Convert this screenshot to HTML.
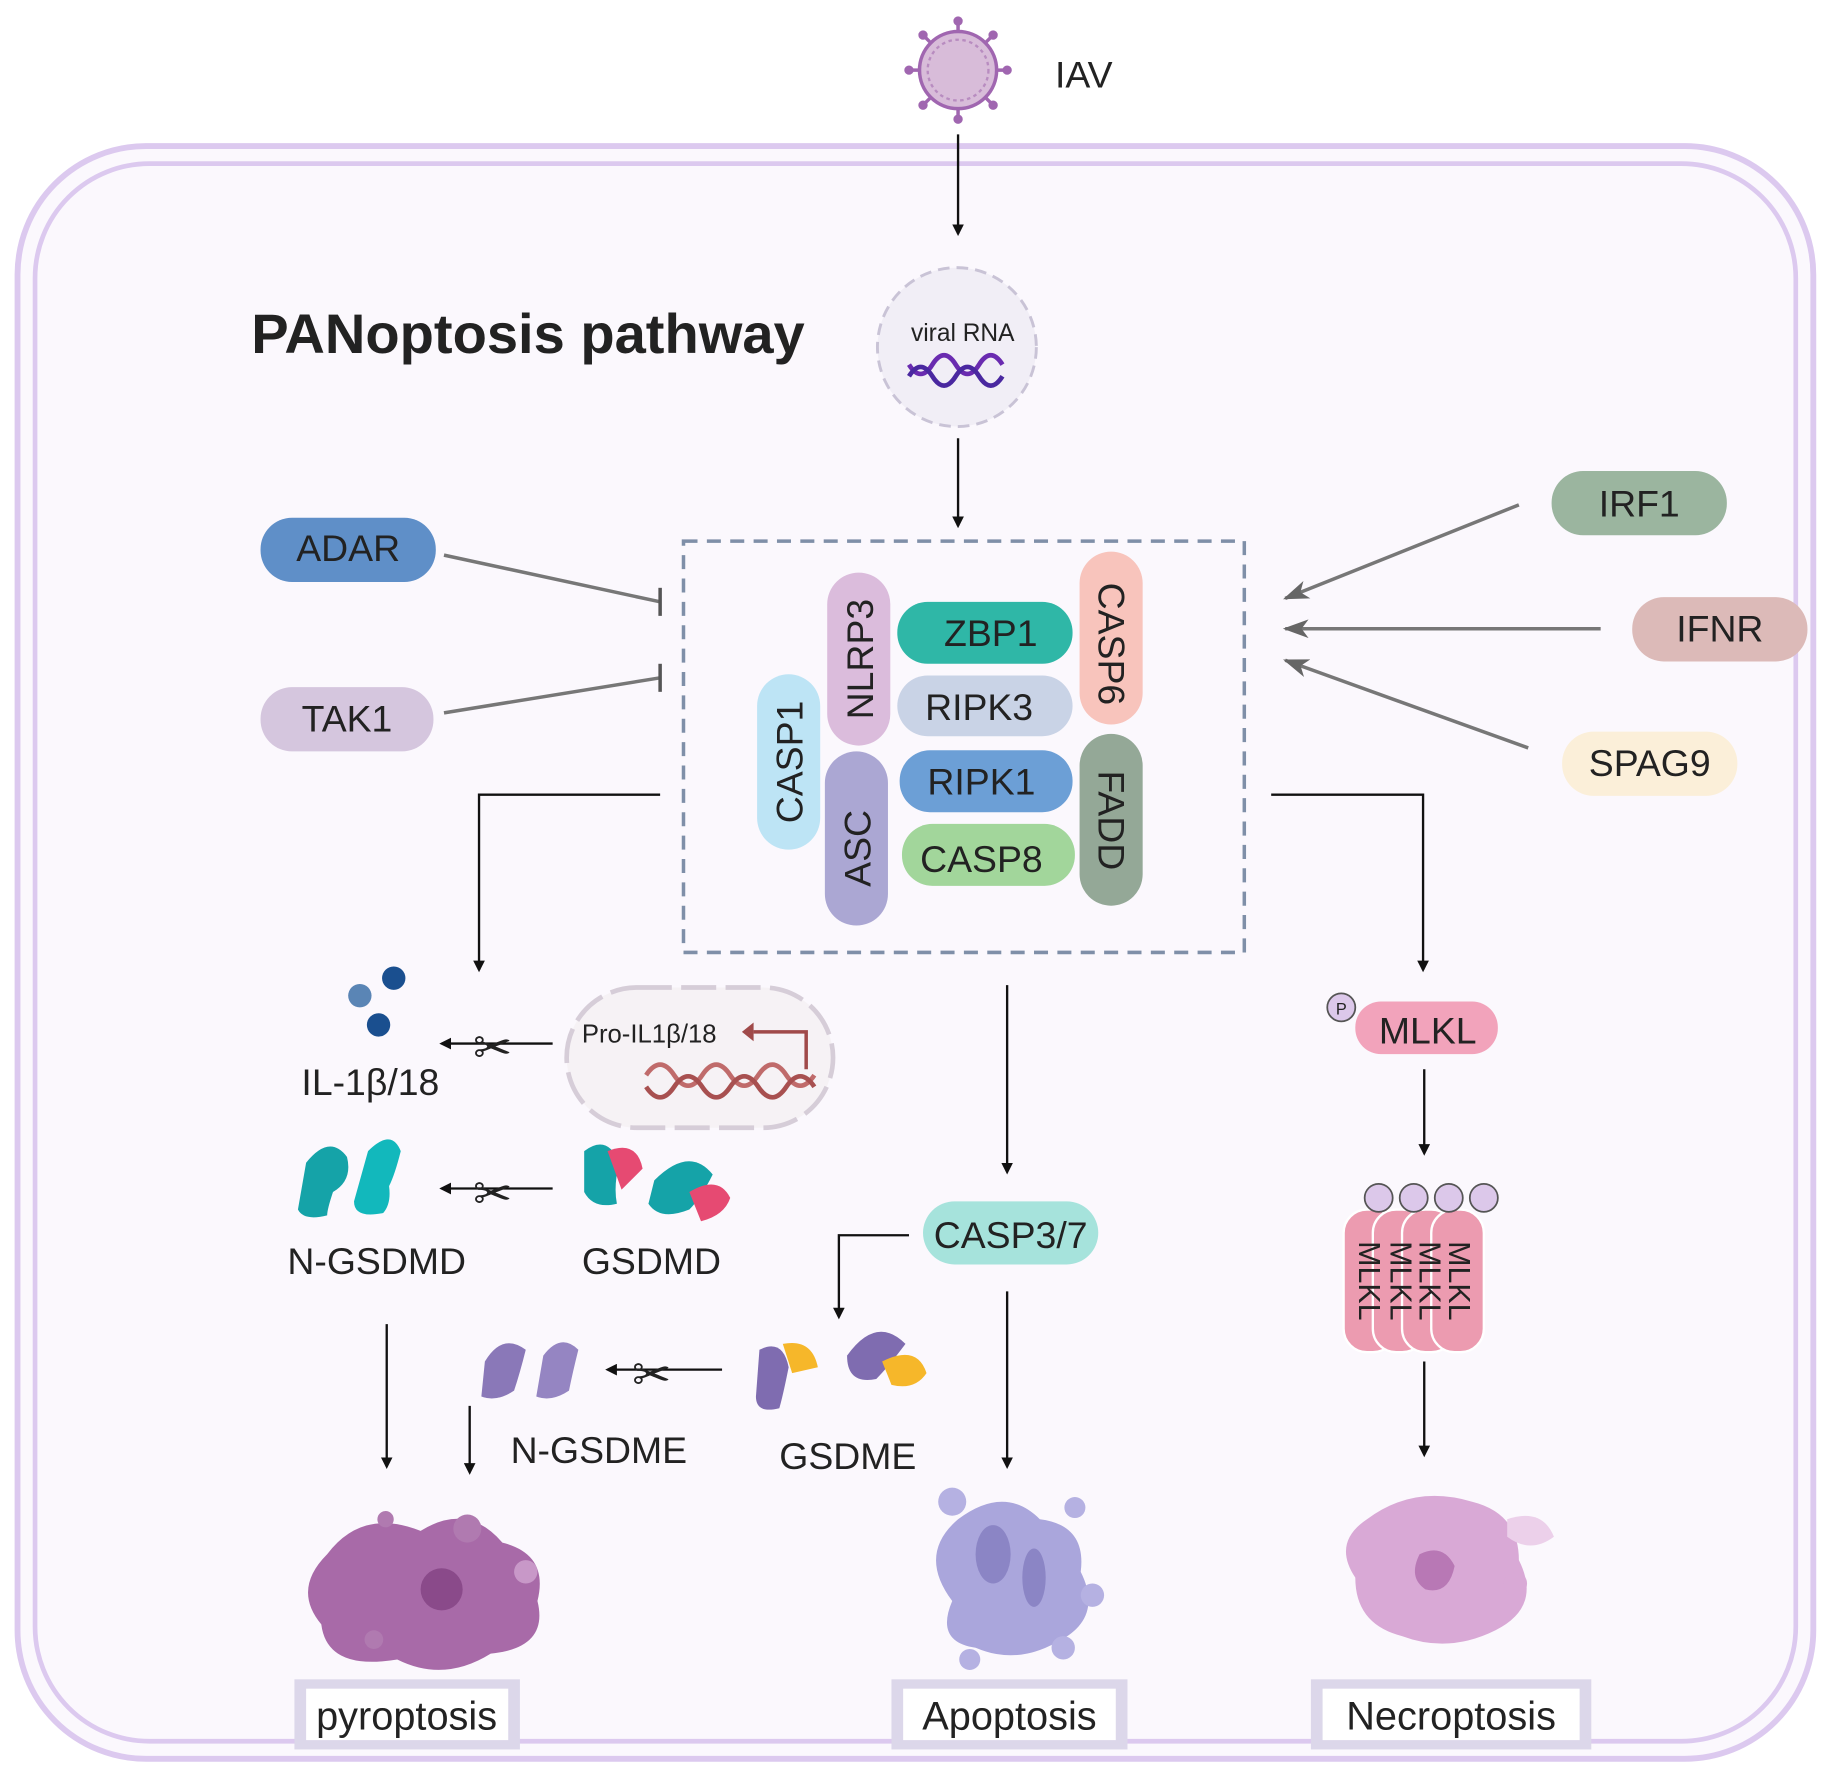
<!DOCTYPE html>
<html><head><meta charset="utf-8"><style>
html,body{margin:0;padding:0;background:#fff}
svg{display:block}
text{font-family:"Liberation Sans",sans-serif;fill:#222}
</style></head><body>
<svg width="1832" height="1781" viewBox="0 0 1568 1524" preserveAspectRatio="none" xmlns="http://www.w3.org/2000/svg">
<defs>
<marker id="ah" markerWidth="10" markerHeight="10" refX="8" refY="5" orient="auto" markerUnits="userSpaceOnUse"><path d="M0,0 L10,5 L0,10 z" fill="#111"/></marker>
<marker id="ag" markerWidth="22" markerHeight="16" refX="20" refY="8" orient="auto" markerUnits="userSpaceOnUse"><path d="M0,0 L22,8 L0,16 L6,8 z" fill="#666"/></marker>
</defs>
<rect x="15" y="125" width="1537" height="1380" rx="110" fill="#fbf8fd" stroke="#dcc9ef" stroke-width="5"/>
<rect x="30" y="140" width="1507" height="1350" rx="98" fill="none" stroke="#dcc9ef" stroke-width="4"/>

<!-- virus -->
<g stroke="#a066b0" stroke-width="3">
<line x1="820" y1="18" x2="820" y2="102"/><line x1="778" y1="60" x2="862" y2="60"/>
<line x1="790" y1="30" x2="850" y2="90"/><line x1="850" y1="30" x2="790" y2="90"/>
</g>
<g fill="#a066b0"><circle cx="820" cy="18" r="4"/><circle cx="820" cy="102" r="4"/><circle cx="778" cy="60" r="4"/><circle cx="862" cy="60" r="4"/><circle cx="790" cy="30" r="4"/><circle cx="850" cy="90" r="4"/><circle cx="850" cy="30" r="4"/><circle cx="790" cy="90" r="4"/></g>
<circle cx="820" cy="60" r="33" fill="#d8bcd9" stroke="#a066b0" stroke-width="3"/>
<circle cx="820" cy="60" r="26" fill="none" stroke="#b88cc0" stroke-width="2" stroke-dasharray="3 3"/>
<text x="903" y="75" font-size="32" fill="#333">IAV</text>
<line x1="820" y1="115" x2="820" y2="200" stroke="#111" stroke-width="2" marker-end="url(#ah)"/>

<text x="215" y="302" font-size="48" font-weight="bold" fill="#111">PANoptosis pathway</text>

<circle cx="819" cy="297" r="68" fill="#f1eef6" stroke="#c9c3d6" stroke-width="2.5" stroke-dasharray="10 6"/>
<text x="824" y="292" font-size="21" text-anchor="middle">viral RNA</text>
<path d="M778,312 q10,16 20,0 t20,0 t20,0 t20,0" fill="none" stroke="#6a2bb0" stroke-width="4"/>
<path d="M778,322 q10,-16 20,0 t20,0 t20,0 t20,0" fill="none" stroke="#4a28a0" stroke-width="4"/>
<line x1="820" y1="375" x2="820" y2="450" stroke="#111" stroke-width="2" marker-end="url(#ah)"/>

<rect x="585" y="463" width="480" height="352" fill="none" stroke="#7f8fa8" stroke-width="3" stroke-dasharray="12 8"/>

<!-- side pills -->
<rect x="223" y="443" width="150" height="55" rx="27" fill="#5f8fc8"/><text x="298" y="480" font-size="32" text-anchor="middle">ADAR</text>
<rect x="223" y="588" width="148" height="55" rx="27" fill="#d5c6de"/><text x="297" y="626" font-size="32" text-anchor="middle">TAK1</text>
<line x1="380" y1="475" x2="565" y2="515" stroke="#777" stroke-width="3"/><line x1="565" y1="503" x2="565" y2="527" stroke="#555" stroke-width="3"/>
<line x1="380" y1="610" x2="565" y2="580" stroke="#777" stroke-width="3"/><line x1="565" y1="568" x2="565" y2="592" stroke="#555" stroke-width="3"/>
<rect x="1328" y="403" width="150" height="55" rx="27" fill="#9bb59f"/><text x="1403" y="442" font-size="32" text-anchor="middle">IRF1</text>
<rect x="1397" y="511" width="150" height="55" rx="27" fill="#dcbab8"/><text x="1472" y="549" font-size="32" text-anchor="middle">IFNR</text>
<rect x="1337" y="626" width="150" height="55" rx="27" fill="#fbefd9"/><text x="1412" y="664" font-size="32" text-anchor="middle">SPAG9</text>
<line x1="1300" y1="432" x2="1100" y2="512" stroke="#777" stroke-width="3" marker-end="url(#ag)"/>
<line x1="1370" y1="538" x2="1100" y2="538" stroke="#777" stroke-width="3" marker-end="url(#ag)"/>
<line x1="1308" y1="640" x2="1100" y2="565" stroke="#777" stroke-width="3" marker-end="url(#ag)"/>

<!-- complex -->
<rect x="708" y="490" width="54" height="148" rx="27" fill="#dbbcdc"/><text transform="translate(747,564) rotate(-90)" font-size="32" text-anchor="middle">NLRP3</text>
<rect x="768" y="515" width="150" height="53" rx="26" fill="#2fb7a7"/><text x="848" y="553" font-size="32" text-anchor="middle">ZBP1</text>
<rect x="768" y="578" width="150" height="52" rx="26" fill="#c9d3e6"/><text x="838" y="616" font-size="32" text-anchor="middle">RIPK3</text>
<rect x="770" y="642" width="148" height="53" rx="26" fill="#6c9fd6"/><text x="840" y="680" font-size="32" text-anchor="middle">RIPK1</text>
<rect x="772" y="705" width="148" height="53" rx="26" fill="#a2d69b"/><text x="840" y="746" font-size="32" text-anchor="middle">CASP8</text>
<rect x="924" y="472" width="54" height="148" rx="27" fill="#f8c4bc"/><text transform="translate(940,551) rotate(90)" font-size="32" text-anchor="middle">CASP6</text>
<rect x="924" y="628" width="54" height="147" rx="27" fill="#94a897"/><text transform="translate(940,702) rotate(90)" font-size="32" text-anchor="middle">FADD</text>
<rect x="648" y="577" width="54" height="150" rx="27" fill="#bde4f5"/><text transform="translate(687,652) rotate(-90)" font-size="32" text-anchor="middle">CASP1</text>
<rect x="706" y="643" width="54" height="149" rx="27" fill="#aba7d3"/><text transform="translate(745,726) rotate(-90)" font-size="32" text-anchor="middle">ASC</text>

<g stroke="#111" stroke-width="2" fill="none">
<polyline points="565,680 410,680 410,830" marker-end="url(#ah)"/>
<polyline points="1088,680 1218,680 1218,830" marker-end="url(#ah)"/>
<line x1="862" y1="843" x2="862" y2="1003" marker-end="url(#ah)"/>
<line x1="473" y1="893" x2="378" y2="893" marker-end="url(#ah)"/>
<line x1="473" y1="1017" x2="378" y2="1017" marker-end="url(#ah)"/>
<polyline points="778,1057 718,1057 718,1127" marker-end="url(#ah)"/>
<line x1="862" y1="1105" x2="862" y2="1255" marker-end="url(#ah)"/>
<line x1="618" y1="1172" x2="520" y2="1172" marker-end="url(#ah)"/>
<line x1="331" y1="1133" x2="331" y2="1255" marker-end="url(#ah)"/>
<line x1="402" y1="1203" x2="402" y2="1260" marker-end="url(#ah)"/>
<line x1="1219" y1="915" x2="1219" y2="987" marker-end="url(#ah)"/>
<line x1="1219" y1="1165" x2="1219" y2="1245" marker-end="url(#ah)"/>
</g>
<!-- scissors -->
<g font-size="40" fill="#111"><text x="405" y="910">✂</text><text x="405" y="1035">✂</text><text x="541" y="1190">✂</text></g>

<circle cx="337" cy="837" r="10" fill="#1a4f8f"/><circle cx="308" cy="852" r="10" fill="#5a85b5"/><circle cx="324" cy="877" r="10" fill="#1a4f8f"/>
<text x="258" y="937" font-size="32" fill="#444">IL-1β/18</text>
<rect x="485" y="845" width="228" height="120" rx="60" fill="#f6f2f5" stroke="#d6cdd8" stroke-width="4" stroke-dasharray="30 8"/>
<text x="498" y="892" font-size="22">Pro-IL1β/18</text>
<polyline points="690,915 690,883 645,883" fill="none" stroke="#a04a4a" stroke-width="3"/>
<path d="M645,875 L635,883 L645,891z" fill="#a04a4a"/>
<path d="M553,920 q12,-18 24,0 t24,0 t24,0 t24,0 t24,0 t24,0" fill="none" stroke="#c06b6b" stroke-width="4"/>
<path d="M553,930 q12,18 24,0 t24,0 t24,0 t24,0 t24,0 t24,0" fill="none" stroke="#a85050" stroke-width="4"/>

<!-- GSDMD -->
<path d="M262,995 q20,-25 35,-5 q5,20 -12,30 q-5,15 -5,20 q-20,5 -25,-5 z" fill="#15a3a8"/>
<path d="M315,985 q20,-20 28,0 q-5,20 -10,30 q2,15 -5,23 q-25,5 -25,-10 z" fill="#12b8bc"/>
<path d="M500,985 q20,-15 30,10 q-5,20 -2,35 q-20,5 -28,-10 z" fill="#15a3a8"/>
<path d="M520,985 q25,-10 30,15 l-18,18 z" fill="#e64a72"/>
<path d="M560,1010 q30,-30 50,-5 q-10,20 -20,30 q-25,10 -35,-5 z" fill="#15a3a8"/>
<path d="M590,1020 q25,-15 35,5 q-5,15 -25,20 z" fill="#e64a72"/>
<text x="246" y="1090" font-size="32" fill="#444">N-GSDMD</text>
<text x="498" y="1090" font-size="32" fill="#444">GSDMD</text>

<rect x="790" y="1028" width="150" height="54" rx="27" fill="#a6e3dc"/><text x="865" y="1068" font-size="32" text-anchor="middle">CASP3/7</text>

<!-- GSDME -->
<path d="M415,1165 q15,-25 35,-10 q-5,20 -10,35 q-15,10 -28,5 z" fill="#8a78b8"/>
<path d="M465,1160 q15,-20 30,-5 q-5,20 -8,35 q-15,10 -28,5 z" fill="#9585c2"/>
<path d="M650,1155 q20,-10 25,15 q-5,25 -8,35 q-20,5 -20,-10 z" fill="#7f6cb0"/>
<path d="M670,1150 q25,-5 30,20 l-22,5 z" fill="#f6b72a"/>
<path d="M725,1160 q25,-35 50,-10 q-15,20 -25,30 q-25,5 -25,-20 z" fill="#7f6cb0"/>
<path d="M755,1165 q30,-15 38,10 q-10,15 -30,10 z" fill="#f6b72a"/>
<text x="437" y="1252" font-size="32" fill="#444">N-GSDME</text>
<text x="667" y="1257" font-size="32" fill="#444">GSDME</text>

<!-- MLKL -->
<circle cx="1148" cy="862" r="12" fill="#dcc8ea" stroke="#555" stroke-width="1.5"/><text x="1148" y="868" font-size="14" text-anchor="middle">P</text>
<rect x="1160" y="857" width="122" height="45" rx="22" fill="#f2a3bb"/><text x="1222" y="893" font-size="32" text-anchor="middle">MLKL</text>
<g fill="#ec9bb0" stroke="#fff" stroke-width="2">
<rect x="1150" y="1035" width="45" height="122" rx="20"/><rect x="1175" y="1035" width="45" height="122" rx="20"/><rect x="1200" y="1035" width="45" height="122" rx="20"/><rect x="1225" y="1035" width="45" height="122" rx="20"/>
</g>
<g font-size="26"><text transform="translate(1163,1096) rotate(90)" text-anchor="middle">MLKL</text><text transform="translate(1190,1096) rotate(90)" text-anchor="middle">MLKL</text><text transform="translate(1215,1096) rotate(90)" text-anchor="middle">MLKL</text><text transform="translate(1240,1096) rotate(90)" text-anchor="middle">MLKL</text></g>
<g fill="#dcc8ea" stroke="#555" stroke-width="1.5"><circle cx="1180" cy="1025" r="12"/><circle cx="1210" cy="1025" r="12"/><circle cx="1240" cy="1025" r="12"/><circle cx="1270" cy="1025" r="12"/></g>

<!-- cells -->
<path d="M280,1330 q30,-40 80,-20 q40,-25 70,10 q40,10 30,50 q10,40 -40,45 q-40,25 -80,5 q-60,10 -65,-30 q-25,-30 5,-60z" fill="#a86aa8"/>
<circle cx="378" cy="1360" r="18" fill="#8a4a8a"/><circle cx="400" cy="1308" r="12" fill="#b07ab0"/><circle cx="330" cy="1300" r="7" fill="#b07ab0"/><circle cx="450" cy="1345" r="10" fill="#c898c8"/><circle cx="320" cy="1403" r="8" fill="#b07ab0"/>
<path d="M820,1300 q40,-30 70,0 q40,5 35,45 q20,40 -20,60 q-35,20 -70,5 q-35,-5 -20,-40 q-30,-40 5,-70z" fill="#aaa6dc"/>
<ellipse cx="850" cy="1330" rx="15" ry="25" fill="#8b85c5"/><ellipse cx="885" cy="1350" rx="10" ry="25" fill="#8b85c5"/>
<circle cx="815" cy="1285" r="12" fill="#b5b1e2"/><circle cx="920" cy="1290" r="9" fill="#b5b1e2"/><circle cx="935" cy="1365" r="10" fill="#b5b1e2"/><circle cx="830" cy="1420" r="9" fill="#b5b1e2"/><circle cx="910" cy="1410" r="10" fill="#b5b1e2"/>
<path d="M1170,1300 q40,-30 90,-15 q40,10 40,50 q20,40 -20,60 q-40,20 -80,5 q-40,-10 -40,-50 q-20,-30 10,-50z" fill="#d9a9d6"/>
<path d="M1215,1330 q20,-10 30,10 q-5,25 -25,20 q-15,-10 -5,-30z" fill="#b878b5"/>
<circle cx="1297" cy="1355" r="10" fill="#d9a9d6"/><path d="M1290,1300 q30,-10 40,15 q-20,15 -40,0z" fill="#ecd0ea"/>

<!-- labels -->
<rect x="252" y="1437" width="193" height="60" fill="#dcd7ea"/><rect x="262" y="1445" width="173" height="44" fill="#fff"/><text x="348" y="1480" font-size="34" text-anchor="middle">pyroptosis</text>
<rect x="763" y="1437" width="202" height="60" fill="#dcd7ea"/><rect x="773" y="1445" width="182" height="44" fill="#fff"/><text x="864" y="1480" font-size="34" text-anchor="middle">Apoptosis</text>
<rect x="1122" y="1437" width="240" height="60" fill="#dcd7ea"/><rect x="1132" y="1445" width="220" height="44" fill="#fff"/><text x="1242" y="1480" font-size="34" text-anchor="middle">Necroptosis</text>
</svg>
</body></html>
